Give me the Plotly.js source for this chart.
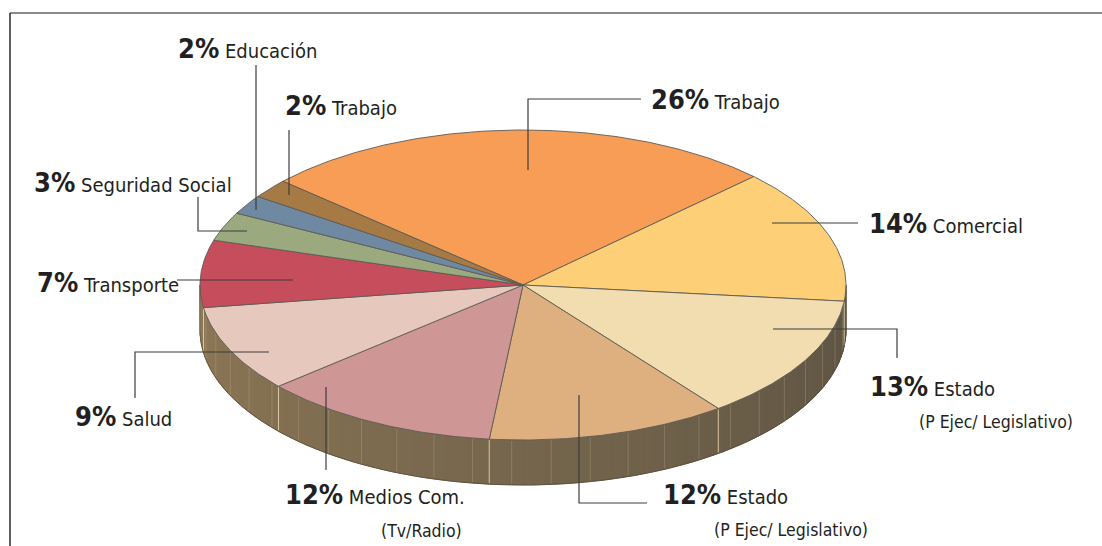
<!DOCTYPE html>
<html>
<head>
<meta charset="utf-8">
<script src="https://cdn.plot.ly/plotly-3.0.1.min.js"></script>
<style>
html,body{margin:0;padding:0;background:#fff;}
#chart{width:1102px;height:546px;}
</style>
</head>
<body>
<div id="chart"></div>
<script>
// ---------- DATA ----------
const categories = ['Trabajo', 'Comercial', 'Estado', 'Estado', 'Medios Com.', 'Salud', 'Transporte', 'Seguridad Social', 'Educación', 'Trabajo'];
const subtitles  = ['', '', '(P Ejec/ Legislativo)', '(P Ejec/ Legislativo)', '(Tv/Radio)', '', '', '', '', ''];
const values     = [26, 14, 13, 12, 12, 9, 7, 3, 2, 2];
const sliceColors = ['#F79D56', '#FDD077', '#F1DDB0', '#DEB07F', '#CF9696', '#E6C9BC', '#C64D5C', '#9BAA7E', '#7089A3', '#A57A45'];

// ---------- GEOMETRY / STYLE (layout only) ----------
const geo = {cx: 523, cy: 285, rx: 323, ry: 155, depth: 45, start: 138};
const sideLeft = [142, 120, 86], sideRight = [92, 83, 67];
const FONT = '"Liberation Sans Narrow", "Arial Narrow", "DejaVu Sans Condensed", "Roboto Condensed", sans-serif';

// label placement: text anchor (left edge, middle) + leader polyline
const labelLayout = [
  {tx: 649, ty: 99,  leader: [[641, 99], [528, 99], [528, 170]]},
  {tx: 867, ty: 223, leader: [[858, 223], [772, 223]]},
  {tx: 868, ty: 386, sx: 917, sy: 422, leader: [[897, 358], [897, 329], [773, 329]]},
  {tx: 661, ty: 494, sx: 712, sy: 530, leader: [[647, 503], [579, 503], [579, 395]]},
  {tx: 283, ty: 494, sx: 379, sy: 531, leader: [[326, 470], [326, 387]]},
  {tx: 73,  ty: 416, leader: [[135, 398], [135, 352], [269, 352]]},
  {tx: 35,  ty: 282, leader: [[177, 280], [293, 280]]},
  {tx: 32,  ty: 182, leader: [[198, 197], [198, 231], [247, 231]]},
  {tx: 176, ty: 48,  leader: [[256, 65], [256, 210]]},
  {tx: 283, ty: 105, leader: [[289, 130], [289, 195]]}
];

// ---------- BUILD ----------
const rad = d => d * Math.PI / 180;
const px = t => geo.cx + geo.rx * Math.cos(rad(t));
const py = t => geo.cy - geo.ry * Math.sin(rad(t));
const total = values.reduce((a, b) => a + b, 0);

const traces = [];

// side (visible front: angles -180..0), drawn as gradient strips
const step = 2;
for (let a = -180; a < 0; a += step) {
  const b = Math.min(a + step, 0);
  const xs = [], ys = [];
  for (let t = a; t <= b + 1e-9; t += 0.5) { xs.push(px(t)); ys.push(py(t)); }
  for (let t = b; t >= a - 1e-9; t -= 0.5) { xs.push(px(t)); ys.push(py(t) + geo.depth); }
  xs.push(xs[0]); ys.push(ys[0]);
  const f = ((a + b) / 2 + 180) / 180;
  const c = sideLeft.map((v, i) => Math.round(v + (sideRight[i] - v) * f));
  const col = `rgb(${c[0]},${c[1]},${c[2]})`;
  traces.push({type: 'scatter', mode: 'lines', x: xs, y: ys, fill: 'toself', fillcolor: col,
    line: {color: col, width: 1}, hoverinfo: 'skip', showlegend: false});
}

// side streaks
const sx = [], sy = [];
for (let t = -176; t < 0; t += 7) {
  sx.push(px(t), px(t), null); sy.push(py(t) + 1, py(t) + geo.depth - 1, null);
}
traces.push({type: 'scatter', mode: 'lines', x: sx, y: sy, line: {color: 'rgba(215,195,155,0.25)', width: 1},
  hoverinfo: 'skip', showlegend: false});

// slice boundaries on the side (bright streaks)
let acc = geo.start;
const bx = [], by = [];
values.forEach(v => {
  acc -= v / total * 360;
  let t = ((acc % 360) + 360) % 360; if (t > 180) t -= 360;
  if (t < 0 && t > -180) { bx.push(px(t), px(t), null); by.push(py(t) + 1, py(t) + geo.depth - 1, null); }
});
traces.push({type: 'scatter', mode: 'lines', x: bx, y: by, line: {color: 'rgba(235,215,175,0.85)', width: 1},
  hoverinfo: 'skip', showlegend: false});

// bottom outline of side
const ox = [], oy = [];
for (let t = -180; t <= 0; t += 1) { ox.push(px(t)); oy.push(py(t) + geo.depth); }
traces.push({type: 'scatter', mode: 'lines', x: ox, y: oy, line: {color: 'rgba(80,70,55,0.6)', width: 1},
  hoverinfo: 'skip', showlegend: false});
// side edges
traces.push({type: 'scatter', mode: 'lines', x: [px(-180), px(-180), null, px(0), px(0)],
  y: [py(-180), py(-180) + geo.depth, null, py(0), py(0) + geo.depth],
  line: {color: 'rgba(80,70,55,0.6)', width: 1}, hoverinfo: 'skip', showlegend: false});

// top slices
let cur = geo.start;
values.forEach((v, i) => {
  const sweep = v / total * 360;
  const a0 = cur, a1 = cur - sweep;
  const xs = [geo.cx], ys = [geo.cy];
  const n = Math.max(4, Math.ceil(sweep / 0.5));
  for (let k = 0; k <= n; k++) { const t = a0 - (a0 - a1) * k / n; xs.push(px(t)); ys.push(py(t)); }
  xs.push(geo.cx); ys.push(geo.cy);
  traces.push({type: 'scatter', mode: 'lines', x: xs, y: ys, fill: 'toself', fillcolor: sliceColors[i],
    line: {color: '#5e5a55', width: 0.9}, name: categories[i], hoverinfo: 'skip', showlegend: false});
  cur = a1;
});

// leader lines
const shapes = [];
labelLayout.forEach(L => {
  const p = L.leader;
  let d = 'M' + p[0][0] + ',' + p[0][1];
  for (let k = 1; k < p.length; k++) d += ' L' + p[k][0] + ',' + p[k][1];
  shapes.push({type: 'path', xref: 'x', yref: 'y', path: d, line: {color: '#3c3c3c', width: 1.2}});
});
// frame
shapes.push({type: 'line', xref: 'paper', yref: 'y', x0: 10 / 1102, x1: 1, y0: 13, y1: 13, line: {color: '#8a8a8a', width: 2}});
shapes.push({type: 'line', xref: 'x', yref: 'paper', x0: 10, x1: 10, y0: 0, y1: 1 - 13 / 546, line: {color: '#2a2a2a', width: 1.5}});

// annotations
const annotations = [];
values.forEach((v, i) => {
  const L = labelLayout[i];
  annotations.push({xref: 'x', yref: 'y', x: L.tx, y: L.ty, xanchor: 'left', yanchor: 'middle', showarrow: false,
    text: `<span style="font-size:27px;font-weight:bold">${v}%</span> ${categories[i]}`,
    font: {family: FONT, size: 20, color: '#231F20'}});
  if (subtitles[i]) {
    annotations.push({xref: 'x', yref: 'y', x: L.sx, y: L.sy, xanchor: 'left', yanchor: 'middle', showarrow: false,
      text: subtitles[i], font: {family: FONT, size: 17.5, color: '#231F20'}});
  }
});

const layout = {
  width: 1102, height: 546,
  margin: {l: 0, r: 0, t: 0, b: 0},
  paper_bgcolor: '#ffffff', plot_bgcolor: '#ffffff',
  xaxis: {range: [0, 1102], visible: false, fixedrange: true},
  yaxis: {range: [546, 0], visible: false, fixedrange: true},
  shapes: shapes,
  annotations: annotations,
  showlegend: false
};

Plotly.newPlot('chart', traces, layout, {staticPlot: true, displayModeBar: false});
</script>
</body>
</html>
